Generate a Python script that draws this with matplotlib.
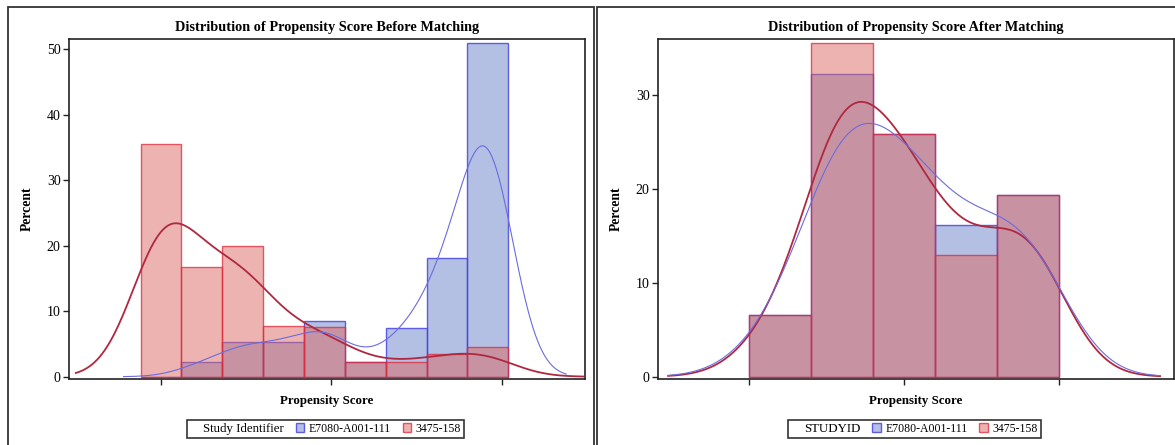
import numpy as np
import matplotlib
matplotlib.use("Agg")
import matplotlib.pyplot as plt
from matplotlib.patches import Rectangle, Patch

plt.rcParams['font.family'] = ['Liberation Serif', 'DejaVu Serif']

# percent of subjects per propensity-score bin
groups = ['E7080-A001-111', '3475-158']

before_centers = [0.0, 0.12, 0.24, 0.36, 0.48, 0.60, 0.72, 0.84, 0.96]
before_width = 0.12
before_e7080 = [0.0, 2.3, 5.3, 5.3, 8.55, 2.3, 7.5, 18.2, 50.9]
before_3475 = [35.5, 16.8, 20.0, 7.8, 7.6, 2.3, 2.3, 3.5, 4.5]

after_centers = [0.24, 0.32, 0.40, 0.48, 0.56]
after_width = 0.08
after_e7080 = [6.6, 32.2, 25.8, 16.15, 19.3]
after_3475 = [6.6, 35.5, 25.8, 13.0, 19.3]

W, H = 1175, 445
BLUE_FILL = (105/255, 128/255, 200/255, 0.5)
RED_FILL = (220/255, 105/255, 100/255, 0.5)
BLUE_EDGE = (70/255, 70/255, 225/255, 0.85)
RED_EDGE = (220/255, 40/255, 55/255, 0.75)
BLUE_KDE = '#6b6be0'
RED_KDE = '#b0283f'


def kde_percent(centers, pct, width, bw, grid):
    # gaussian kernel density of the binned data, scaled to percent per bin
    c = np.asarray(centers)[:, None]
    w = np.asarray(pct)[:, None]
    dens = w * np.exp(-0.5 * ((grid[None, :] - c) / bw) ** 2) / (bw * np.sqrt(2 * np.pi))
    return dens.sum(axis=0) * width


def draw_panel(ax, centers, width, blue, red, bws, spans, xlim, ylim, yticks,
               xticks, title, legend_title):
    ax.bar(centers, blue, width=width, color=BLUE_FILL, edgecolor=BLUE_EDGE,
           linewidth=1.0, zorder=2)
    ax.bar(centers, red, width=width, color=RED_FILL, edgecolor=RED_EDGE,
           linewidth=1.0, zorder=3)

    gb = np.linspace(spans[0][0], spans[0][1], 400)
    gr = np.linspace(spans[1][0], spans[1][1], 400)
    ax.plot(gr, kde_percent(centers, red, width, bws[1], gr), color=RED_KDE,
            lw=1.3, zorder=4)
    ax.plot(gb, kde_percent(centers, blue, width, bws[0], gb), color=BLUE_KDE,
            lw=0.8, zorder=5)

    ax.set_xlim(*xlim)
    ax.set_ylim(*ylim)
    ax.set_yticks(yticks)
    ax.set_xticks(xticks)
    ax.set_xticklabels([])
    ax.tick_params(axis='both', direction='out', length=4.5, width=1.0,
                   color='#222222', labelsize=10, pad=1.5)
    for s in ax.spines.values():
        s.set_linewidth(1.2)
        s.set_color('#222222')

    ax.text(0.5, 1.035, title, transform=ax.transAxes, ha='center',
            va='center', fontsize=10.3, fontweight='bold')
    ax.text(0.5, -0.065, 'Propensity Score', transform=ax.transAxes,
            ha='center', va='center', fontsize=9.3, fontweight='bold')
    ax.text(-0.080, 0.5, 'Percent', transform=ax.transAxes, ha='center',
            va='center', rotation=90, fontsize=9.8, fontweight='bold')

    handles = [Patch(visible=False),
               Patch(facecolor=BLUE_FILL, edgecolor=BLUE_EDGE, lw=1.0),
               Patch(facecolor=RED_FILL, edgecolor=RED_EDGE, lw=1.0)]
    labels = [legend_title] + groups
    leg = ax.legend(handles, labels, loc='center', bbox_to_anchor=(0.497, -0.146),
                    ncol=3, frameon=True, fancybox=False, fontsize=8.5,
                    handlelength=0.7, handleheight=0.7, handletextpad=0.4,
                    columnspacing=1.0, borderpad=0.25, borderaxespad=0)
    leg.get_frame().set_edgecolor('black')
    leg.get_frame().set_linewidth(1.2)
    leg.get_texts()[0].set_fontsize(9.3)


fig = plt.figure(figsize=(W / 100, H / 100), dpi=100)

# panel frames
fig.add_artist(Rectangle((8 / W, -0.05), 586 / W, 1.05 - 7 / H,
                         transform=fig.transFigure, fill=False, lw=1.3,
                         ec='#333333'))
fig.add_artist(Rectangle((597 / W, -0.05), 600 / W, 1.05 - 7 / H,
                         transform=fig.transFigure, fill=False, lw=1.3,
                         ec='#333333'))

ax1 = fig.add_axes([69 / W, (H - 379) / H, 516 / W, 340 / H])
ax2 = fig.add_axes([658 / W, (H - 379) / H, 516 / W, 340 / H])

draw_panel(ax1, before_centers, before_width, before_e7080, before_3475,
           bws=(0.078, 0.095), spans=((-0.11, 1.19), (-0.25, 1.24)),
           xlim=(-0.270, 1.245), ylim=(-0.35, 51.57),
           yticks=[0, 10, 20, 30, 40, 50], xticks=[0.0, 0.5, 1.0],
           title='Distribution of Propensity Score Before Matching',
           legend_title='Study Identifier')

draw_panel(ax2, after_centers, after_width, after_e7080, after_3475,
           bws=(0.056, 0.052), spans=((0.095, 0.73), (0.095, 0.73)),
           xlim=(0.082, 0.748), ylim=(-0.245, 35.96),
           yticks=[0, 10, 20, 30], xticks=[0.2, 0.4, 0.6],
           title='Distribution of Propensity Score After Matching',
           legend_title='STUDYID')

fig.savefig('out.png', dpi=100)
